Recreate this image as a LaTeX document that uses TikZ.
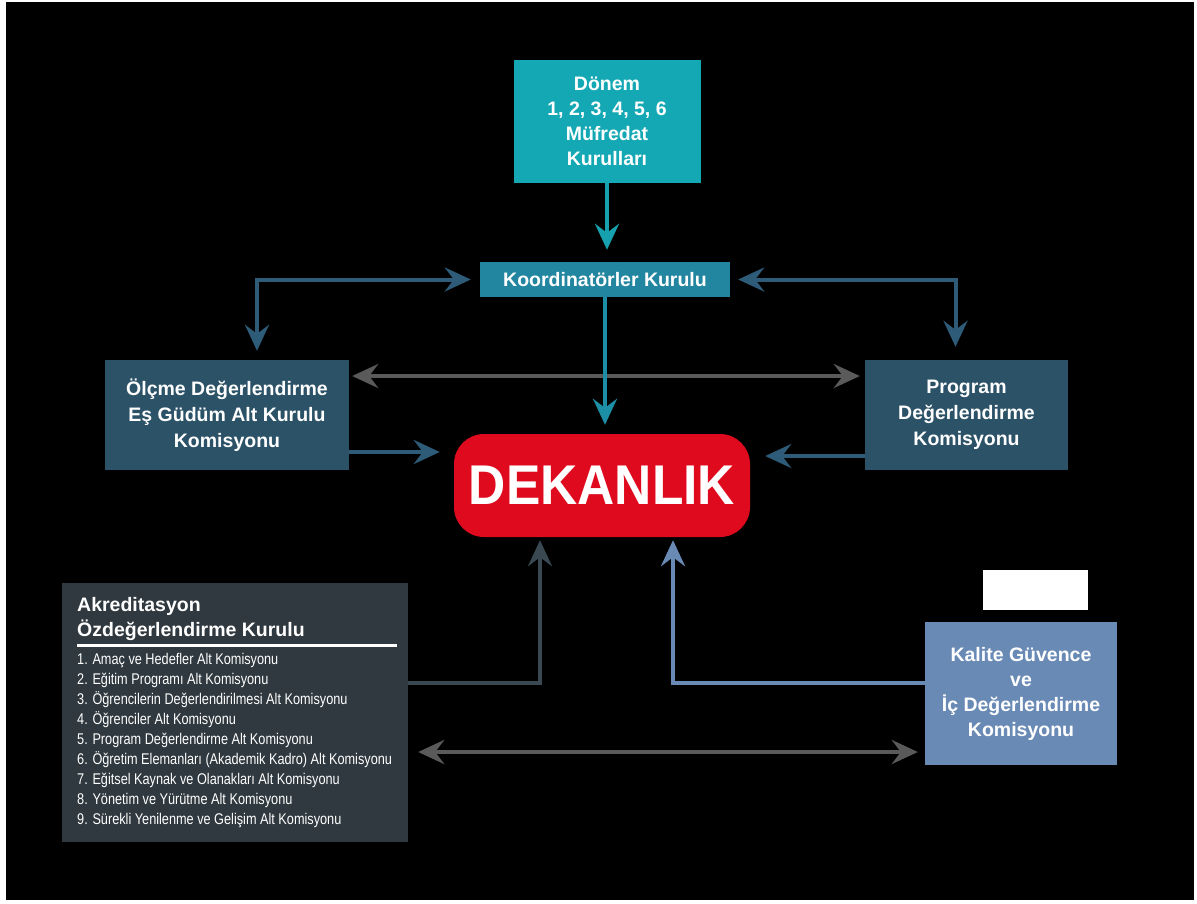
\documentclass[tikz,border=0pt]{standalone}
\usepackage{fontspec}
\setmainfont{Liberation Sans}
\newfontfamily\narrowfont[FakeStretch=0.82]{Liberation Sans}
\newfontfamily\dekfont[FakeStretch=0.92]{Liberation Sans}
\usetikzlibrary{arrows.meta,calc}
\definecolor{cteal}{HTML}{14A8B4}
\definecolor{ckoord}{HTML}{2286A0}
\definecolor{ctealarr}{HTML}{17A0AD}
\definecolor{ckoordarr}{HTML}{1C8FA6}
\definecolor{csteel}{HTML}{2D5B78}
\definecolor{cboxblue}{HTML}{2C5268}
\definecolor{cgray}{HTML}{5A5A5A}
\definecolor{cred}{HTML}{E00A1E}
\definecolor{cakred}{HTML}{30393F}
\definecolor{cakarr}{HTML}{3A4852}
\definecolor{ckalite}{HTML}{6A8AB6}
\tikzset{
  boxnode/.style={rectangle, inner sep=0pt, text=white, align=center,
    font=\bfseries\fontsize{19.5}{25}\selectfont},
  onearr/.style={line width=4pt, -{Stealth[length=26pt,width=24pt,inset=9pt]}},
  botharr/.style={line width=4pt, {Stealth[length=26pt,width=24pt,inset=9pt]}-{Stealth[length=26pt,width=24pt,inset=9pt]}},
  itemtext/.style={anchor=base west, inner sep=0pt, text=white,
    font=\narrowfont\fontsize{15.5}{20}\selectfont},
  titletext/.style={anchor=base west, inner sep=0pt, text=white,
    font=\bfseries\fontsize{19.5}{26}\selectfont}
}
\begin{document}
\begin{tikzpicture}[x=1pt,y=-1pt]
\useasboundingbox (0,0) rectangle (1197,903);
\fill[white] (0,0) rectangle (1197,903);
\fill[black] (6,2) rectangle (1194,900);

% boxes
\node[boxnode, fill=cteal, minimum width=187pt, minimum height=123pt] (donem) at (607,121.5)
  {Dönem\\1, 2, 3, 4, 5, 6\\Müfredat\\Kurulları};
\node[boxnode, fill=ckoord, minimum width=250pt, minimum height=35pt] (koord) at (605,279.5)
  {Koordinatörler Kurulu};
\node[boxnode, fill=cboxblue, minimum width=244pt, minimum height=110pt,
  font=\bfseries\fontsize{19.5}{26}\selectfont] (olcme) at (227,415)
  {Ölçme Değerlendirme\\Eş Güdüm Alt Kurulu\\Komisyonu};
\node[boxnode, fill=cboxblue, minimum width=203pt, minimum height=110pt,
  font=\bfseries\fontsize{19.5}{26}\selectfont] (prog) at (966.5,415)
  {Program\\Değerlendirme\\Komisyonu};
\node[boxnode, fill=cred, rounded corners=30pt, minimum width=296pt, minimum height=103pt,
  font=\dekfont\bfseries\fontsize{56}{60}\selectfont] (dek) at (602,485.5) {DEKANLIK};
\node[rectangle, fill=cakred, inner sep=0pt, minimum width=346pt, minimum height=259pt] (akred) at (235,712.5) {};
\node[boxnode, fill=ckalite, minimum width=192pt, minimum height=143pt] (kalite) at (1021,693.5)
  {Kalite Güvence\\ve\\İç Değerlendirme\\Komisyonu};
\node[rectangle, fill=white, inner sep=0pt, minimum width=105pt, minimum height=40pt] (blank) at (1035.5,590) {};

% akreditasyon content
\node[titletext] (akt1) at (77,611) {Akreditasyon};
\node[titletext] (akt2) at (77,636.5) {Özdeğerlendirme Kurulu};
\draw[white, line width=3pt] (77,645) -- (397,645);
\foreach \i/\t in {
  1/{1. Amaç ve Hedefler Alt Komisyonu},
  2/{2. Eğitim Programı Alt Komisyonu},
  3/{3. Öğrencilerin Değerlendirilmesi Alt Komisyonu},
  4/{4. Öğrenciler Alt Komisyonu},
  5/{5. Program Değerlendirme Alt Komisyonu},
  6/{6. Öğretim Elemanları (Akademik Kadro) Alt Komisyonu},
  7/{7. Eğitsel Kaynak ve Olanakları Alt Komisyonu},
  8/{8. Yönetim ve Yürütme Alt Komisyonu},
  9/{9. Sürekli Yenilenme ve Gelişim Alt Komisyonu}}{
  \node[itemtext] (item\i) at (77,{664+20*(\i-1)}) {\t};
}

% connectors
\draw[onearr, ctealarr, shorten >=12pt] (donem.south) -- (donem.south |- koord.north);
\draw[botharr, csteel] ([xshift=-9pt]koord.west) -| ([xshift=30pt,yshift=9pt]olcme.north);
\draw[botharr, csteel] ([xshift=8pt]koord.east) -| ([xshift=-11pt,yshift=13pt]prog.north);
\draw[botharr, cgray] ([xshift=3pt,yshift=39pt]olcme.east) -- ([xshift=-5pt,yshift=39pt]prog.west);
\draw[onearr, ckoordarr, shorten >=9pt] (koord.south) -- (koord.south |- dek.north);
\draw[onearr, csteel, shorten >=14pt] ([yshift=-37pt]olcme.east) -- ([yshift=-37pt]olcme.east -| dek.west);
\draw[onearr, csteel, shorten >=15pt] ([yshift=-41pt]prog.west) -- ([yshift=-41pt]prog.west -| dek.east);
\draw[onearr, cakarr] ([yshift=29.5pt]akred.east) -| ([xshift=-62pt,yshift=-3pt]dek.south);
\draw[onearr, ckalite] ([yshift=10.5pt]kalite.west) -| ([xshift=71pt,yshift=-3pt]dek.south);
\draw[botharr, cgray] ([xshift=10pt,yshift=-39.5pt]akred.east) -- ([xshift=-7pt,yshift=-39.5pt]akred.east -| kalite.west);
\end{tikzpicture}
\end{document}
